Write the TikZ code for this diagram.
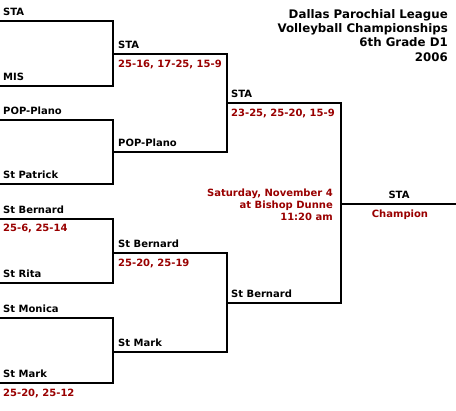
\documentclass[tikz,border=0pt]{standalone}
\usepackage{fontspec}
\setmainfont{DejaVu Sans}
\definecolor{scorered}{HTML}{990000}
\tikzset{
  bline/.style={line width=2pt, black},
  team/.style={anchor=base west, inner sep=0pt, font=\fontsize{10}{12}\selectfont\bfseries, text=black},
  score/.style={anchor=base west, inner sep=0pt, font=\fontsize{10}{12}\selectfont\bfseries, text=scorered},
}
\begin{document}
\begin{tikzpicture}[x=1pt,y=-1pt]
\useasboundingbox (0,0) rectangle (456,411);
% round 1 starts
\coordinate (a1) at (0,21);
\coordinate (a2) at (0,86);
\coordinate (a3) at (0,120);
\coordinate (a4) at (0,184);
\coordinate (a5) at (0,219);
\coordinate (a6) at (0,283);
\coordinate (a7) at (0,318);
\coordinate (a8) at (0,383);
% round 2 junctions
\coordinate (b1) at (113,54);
\coordinate (b2) at (113,152);
\coordinate (b3) at (113,253);
\coordinate (b4) at (113,352);
% round 3 junctions
\coordinate (c1) at (227,103);
\coordinate (c2) at (227,303);
% final
\coordinate (d1) at (341,204);
\coordinate (e1) at (456,204);

\draw[bline] (a1) -| (b1) |- (a2);
\draw[bline] (a3) -| (b2) |- (a4);
\draw[bline] (a5) -| (b3) |- (a6);
\draw[bline] (a7) -| (b4) |- (a8);
\draw[bline] (b1) -| (c1) |- (b2);
\draw[bline] (b3) -| (c2) |- (b4);
\draw[bline] (c1) -| (d1) |- (c2);
\draw[bline] (d1) -- (e1);

% round 1 teams
\node[team] (n1) at (3,16) {STA};
\node[team] (n2) at (3,81) {MIS};
\node[team] (n3) at (3,115) {POP-Plano};
\node[team] (n4) at (3,179) {St Patrick};
\node[team] (n5) at (3,214) {St Bernard};
\node[score] (s5) at (3,232) {25-6, 25-14};
\node[team] (n6) at (3,278) {St Rita};
\node[team] (n7) at (3,313) {St Monica};
\node[team] (n8) at (3,378) {St Mark};
\node[score] (s8) at (3,397) {25-20, 25-12};
% round 2
\node[team] (m1) at (118,49) {STA};
\node[score] (t1) at (118,67.5) {25-16, 17-25, 15-9};
\node[team] (m2) at (118,147) {POP-Plano};
\node[team] (m3) at (118,248) {St Bernard};
\node[score] (t3) at (118,266.5) {25-20, 25-19};
\node[team] (m4) at (118,347) {St Mark};
% round 3
\node[team] (p1) at (231,98) {STA};
\node[score] (q1) at (231,116.5) {23-25, 25-20, 15-9};
\node[team] (p2) at (231,298) {St Bernard};
% final
\node[team, anchor=base] (w) at (399,199) {STA};
\node[score, anchor=base] (ch) at (400,217.6) {Champion};
% date
\node[anchor=north east, inner sep=0pt, align=right, text=scorered,
      font=\fontsize{10}{11.7}\selectfont\bfseries] (date) at (333,189)
  {Saturday, November 4\\at Bishop Dunne\\11:20 am};
% title
\node[anchor=north east, inner sep=0pt, align=right,
      font=\fontsize{11.8}{14.3}\selectfont\bfseries] (title) at (448,9)
  {Dallas Parochial League\\Volleyball Championships\\6th Grade D1\\2006};
\end{tikzpicture}
\end{document}
